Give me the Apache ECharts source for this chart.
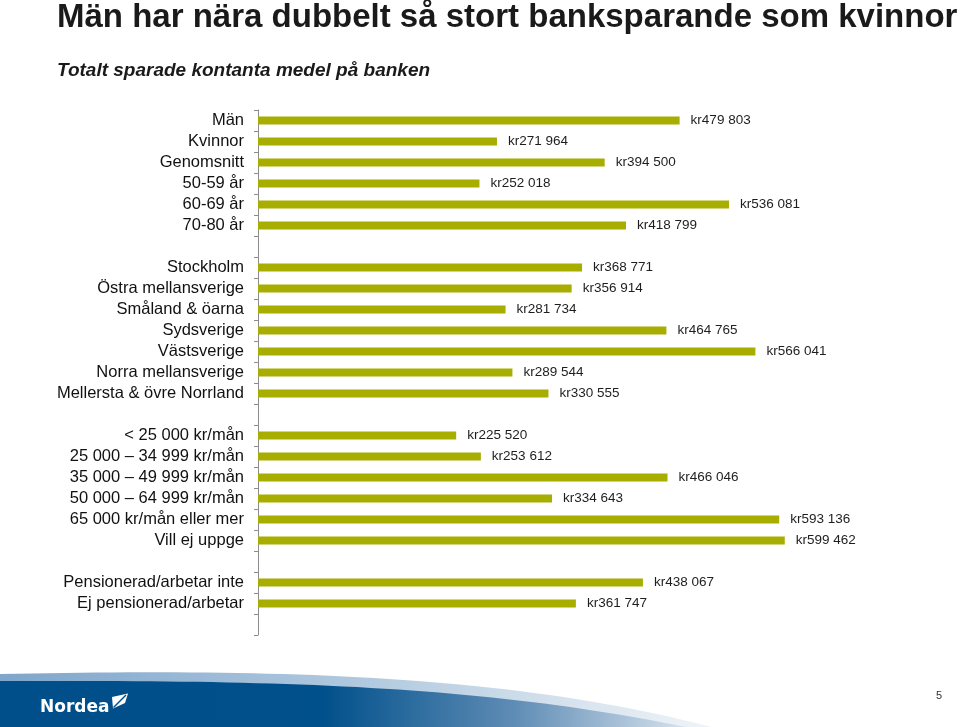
<!DOCTYPE html>
<html>
<head>
<meta charset="utf-8">
<script src="https://cdn.jsdelivr.net/npm/echarts@6/dist/echarts.min.js"></script>
<style>
html,body{margin:0;padding:0;background:#fff;}
#chart{width:960px;height:727px;}
</style>
</head>
<body>
<div id="chart"></div>
<script>
// ---- data ----
const groupGenderAge = ['Män', 'Kvinnor', 'Genomsnitt', '50-59 år', '60-69 år', '70-80 år'];
const valuesGenderAge = [479803, 271964, 394500, 252018, 536081, 418799];

const groupRegion = ['Stockholm', 'Östra mellansverige', 'Småland & öarna', 'Sydsverige', 'Västsverige', 'Norra mellansverige', 'Mellersta & övre Norrland'];
const valuesRegion = [368771, 356914, 281734, 464765, 566041, 289544, 330555];

const groupIncome = ['< 25 000 kr/mån', '25 000 – 34 999 kr/mån', '35 000 – 49 999 kr/mån', '50 000 – 64 999 kr/mån', '65 000 kr/mån eller mer', 'Vill ej uppge'];
const valuesIncome = [225520, 253612, 466046, 334643, 593136, 599462];

const groupWork = ['Pensionerad/arbetar inte', 'Ej pensionerad/arbetar'];
const valuesWork = [438067, 361747];

const titleText = 'Män har nära dubbelt så stort banksparande som kvinnor';
const subtitleText = 'Totalt sparade kontanta medel på banken';

// ---- build category list with blank separator rows ----
const groups = [[groupGenderAge, valuesGenderAge], [groupRegion, valuesRegion], [groupIncome, valuesIncome], [groupWork, valuesWork]];
const categories = [];
const values = [];
let blankId = 0;
groups.forEach(function (g) {
  g[0].forEach(function (c, i) { categories.push(c); values.push(g[1][i]); });
  blankId++;
  categories.push('\u200b'.repeat(blankId));
  values.push('-');
});

function fmt(v) {
  const s = String(Math.round(v));
  return 'kr' + s.replace(/\B(?=(\d{3})+(?!\d))/g, ' ');
}

// cubic bezier sampled into polygon points (decoration only)
function bezierPts(p0, p1, p2, p3, n) {
  const pts = [];
  for (let i = 0; i <= n; i++) {
    const t = i / n, u = 1 - t;
    pts.push([
      u*u*u*p0[0] + 3*u*u*t*p1[0] + 3*u*t*t*p2[0] + t*t*t*p3[0],
      u*u*u*p0[1] + 3*u*u*t*p1[1] + 3*u*t*t*p2[1] + t*t*t*p3[1]
    ]);
  }
  return pts;
}
const lightPts = bezierPts([0, 674], [260, 669], [500, 672], [712, 727], 48).concat([[0, 727]]);
const darkPts = bezierPts([0, 681], [280, 680], [480, 685], [686, 727], 48).concat([[0, 727]]);

function lin(stops) {
  return {type: 'linear', x: 0, y: 0, x2: 1, y2: 0, colorStops: stops, global: false};
}

const FONT = '"Liberation Sans", Arial, sans-serif';
const chart = echarts.init(document.getElementById('chart'), null, {renderer: 'canvas'});

const option = {
  animation: false,
  backgroundColor: '#ffffff',
  grid: {left: 258, top: 110, width: 600, height: 525, containLabel: false},
  xAxis: {type: 'value', min: 0, max: 682800, show: false},
  yAxis: {
    type: 'category',
    inverse: true,
    data: categories,
    axisLine: {show: true, lineStyle: {color: '#8c8c8c', width: 1}},
    axisTick: {show: true, length: 4, lineStyle: {color: '#8c8c8c'}},
    axisLabel: {margin: 14, fontSize: 16.5, color: '#111', fontFamily: FONT, interval: 0}
  },
  series: [{
    type: 'bar',
    data: values,
    barWidth: 8,
    itemStyle: {color: '#A8AE00'},
    label: {
      show: true, position: 'right', distance: 11,
      fontSize: 13.5, color: '#1e1e1e', fontFamily: FONT,
      formatter: function (p) { return fmt(p.value); }
    }
  }],
  graphic: [
    {type: 'text', x: 57, y: 18, style: {text: titleText, font: 'bold 33px ' + FONT, fill: '#1a1a1a', textVerticalAlign: 'middle'}},
    {type: 'text', x: 57, y: 71, style: {text: subtitleText, font: 'italic bold 19px ' + FONT, fill: '#1a1a1a', textVerticalAlign: 'middle'}},
    {type: 'polygon', shape: {points: lightPts},
      style: {fill: lin([{offset: 0, color: '#7FA6CB'}, {offset: 0.55, color: '#B5CCE1'}, {offset: 1, color: '#F0F4F8'}])}},
    {type: 'polygon', shape: {points: darkPts},
      style: {fill: lin([{offset: 0, color: '#004F8A'}, {offset: 0.47, color: '#00508B'}, {offset: 0.75, color: '#5F8CB5'}, {offset: 1, color: '#D6E2ED'}])}},
    {type: 'text', x: 40, y: 707.5, style: {text: 'Nordea', font: '600 17px "DejaVu Sans", sans-serif', fill: '#ffffff', textVerticalAlign: 'middle'}},
    {type: 'polygon', shape: {points: [[112, 697], [128, 693.5], [125, 703], [113, 708.5]]}, style: {fill: '#ffffff'}},
    {type: 'line', shape: {x1: 113.5, y1: 707.5, x2: 126, y2: 695}, style: {stroke: '#00508B', lineWidth: 1.5}},
    {type: 'text', x: 939, y: 696, style: {text: '5', font: '11px ' + FONT, fill: '#333', textAlign: 'center', textVerticalAlign: 'middle'}}
  ]
};
chart.setOption(option);
</script>
</body>
</html>
